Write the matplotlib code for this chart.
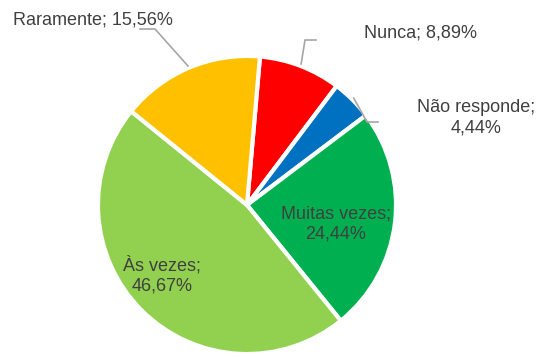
import matplotlib

matplotlib.use("Agg")
import matplotlib.pyplot as plt
import numpy as np

categorias = ["Nunca", "Não responde", "Muitas vezes", "Às vezes", "Raramente"]
percentuais = [8.89, 4.44, 24.44, 46.67, 15.56]
cores = ["#FF0000", "#0070C0", "#00B050", "#92D050", "#FFC000"]

W, H = 542, 357
CX, CY, R = 247, 152, 149
TXT = "#404040"
LINHA = "#A6A6A6"

plt.rcParams["font.family"] = ["Liberation Sans", "DejaVu Sans"]

fig = plt.figure(figsize=(W / 100, H / 100), dpi=100, facecolor="white")
ax = fig.add_axes([0, 0, 1, 1])

wedges, _ = ax.pie(
    percentuais,
    colors=cores,
    startangle=85,
    counterclock=False,
    explode=[0.022] * len(percentuais),
    radius=R,
    center=(CX, CY),
    wedgeprops=dict(edgecolor="white", linewidth=3),
)
ax.set_xlim(0, W)
ax.set_ylim(0, H)
ax.set_aspect("equal")
ax.axis("off")


def rotulo(i):
    nome = categorias[i]
    val = f"{percentuais[i]:.2f}%".replace(".", ",")
    return nome, val


# posição do texto (x, y) e se vai em duas linhas; guia: cotovelo e fim horizontal
layout = {
    "Nunca": dict(pos=(420, 324), duas=False, guia=((305, 317), (316, 317))),
    "Não responde": dict(pos=(476, 239), duas=True, guia=((367, 235), (378, 235))),
    "Muitas vezes": dict(pos=(336, 133), duas=True, guia=None),
    "Às vezes": dict(pos=(162, 82), duas=True, guia=None),
    "Raramente": dict(pos=(93, 337), duas=False, guia=((155, 328), (140, 328))),
}

for i, w in enumerate(wedges):
    nome, val = rotulo(i)
    cfg = layout[nome]
    sep = "\n" if cfg["duas"] else " "
    ax.text(*cfg["pos"], f"{nome};{sep}{val}", ha="center", va="center",
            fontsize=13, color=TXT, linespacing=1.25)
    if cfg["guia"] is not None:
        ang = np.deg2rad((w.theta1 + w.theta2) / 2)
        cx, cy = w.center
        x0 = cx + (w.r + 2) * np.cos(ang)
        y0 = cy + (w.r + 2) * np.sin(ang)
        (ex, ey), (fx, fy) = cfg["guia"]
        ax.plot([x0, ex, fx], [y0, ey, fy], color=LINHA, linewidth=1.2,
                solid_joinstyle="miter")

fig.savefig("out.png", dpi=100, facecolor="white")
